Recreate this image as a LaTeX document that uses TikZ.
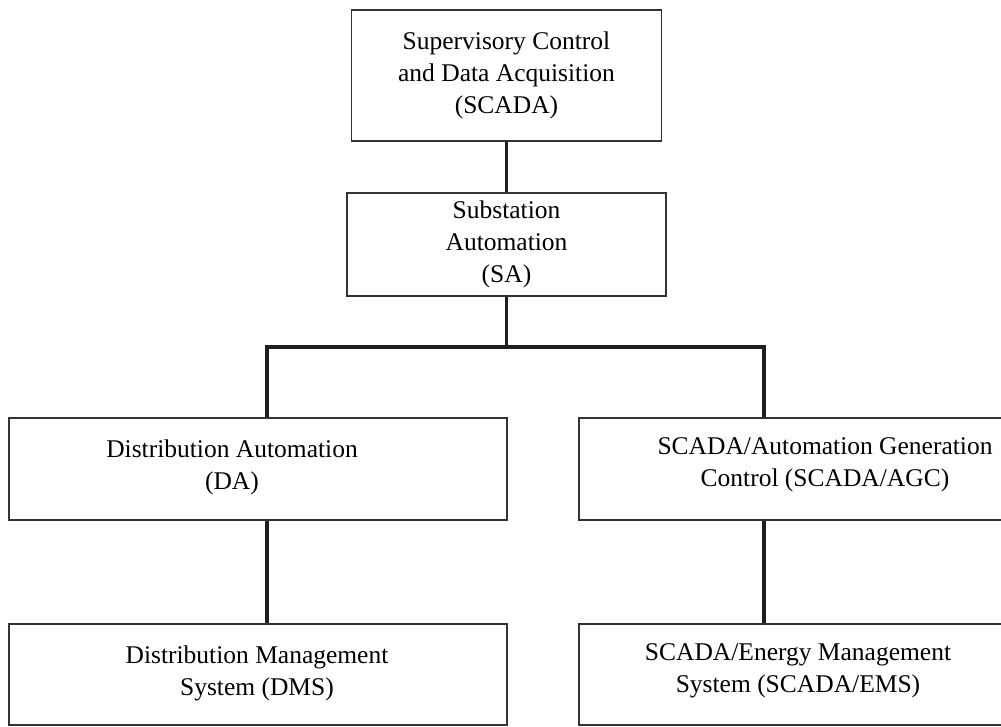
\documentclass[tikz,border=0pt]{standalone}
\usepackage{fontspec}
\setmainfont{Liberation Serif}
\begin{document}
\begin{tikzpicture}[x=1pt,y=-1pt,
  box/.style={draw=black!80,line width=1.3pt,rectangle,inner sep=0pt,align=center,
              font=\fontsize{25.5}{32}\selectfont},
  txt/.style={align=center,inner sep=0pt,font=\fontsize{25.5}{32}\selectfont},
  conn/.style={line width=3.2pt,draw=black!88}]
\useasboundingbox (0,0) rectangle (1001,726);
\node[box,minimum width=310pt,minimum height=131pt] (b1) at (506.5,75.5)
  {Supervisory Control\\and Data Acquisition\\(SCADA)};
\node[box,minimum width=319pt,minimum height=103pt] (b2) at (506.5,244.5)
  {Substation\\Automation\\(SA)};
\node[box,minimum width=498pt,minimum height=102pt] (b3) at (258,469) {};
\node[txt] (t3) at (232,467) {Distribution Automation\\(DA)};
\node[box,minimum width=451pt,minimum height=102pt] (b4) at (804.5,469) {};
\node[txt] (t4) at (825,465) {SCADA/Automation Generation\\Control (SCADA/AGC)};
\node[box,minimum width=498pt,minimum height=101pt] (b5) at (258,674.5) {};
\node[txt] (t5) at (257,673) {Distribution Management\\System (DMS)};
\node[box,minimum width=451pt,minimum height=101pt] (b6) at (804.5,674.5) {};
\node[txt] (t6) at (798,671) {SCADA/Energy Management\\System (SCADA/EMS)};
\coordinate (jl) at (267,347);
\coordinate (jr) at (764,347);
\draw[conn] (b1.south) -- (b2.north);
\draw[conn] (b2.south) -- (b2.south |- jl);
\draw[conn] (b3.north -| jl) -- (jl) -- (jr) -- (b4.north -| jr);
\draw[conn] (b3.south -| jl) -- (b5.north -| jl);
\draw[conn] (b4.south -| jr) -- (b6.north -| jr);
\end{tikzpicture}
\end{document}
